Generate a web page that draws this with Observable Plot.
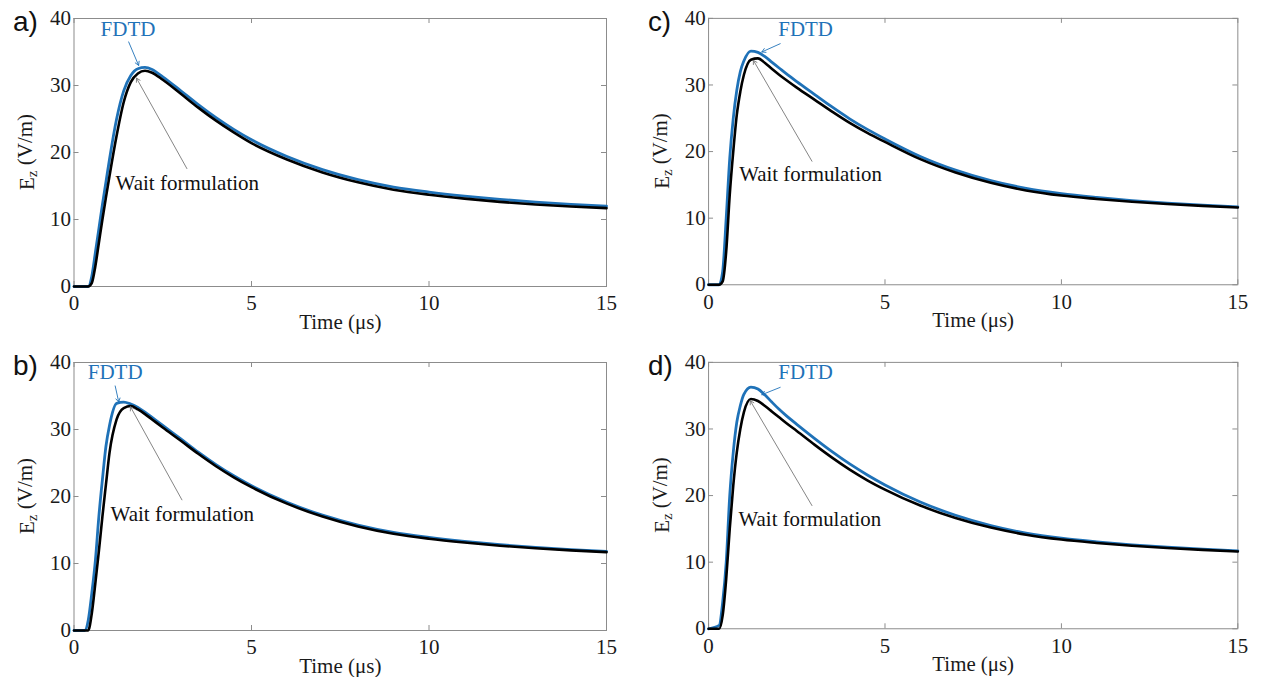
<!DOCTYPE html>
<html>
<head>
<meta charset="utf-8">
<script src="https://cdn.jsdelivr.net/npm/d3@7"></script>
<script src="https://cdn.jsdelivr.net/npm/@observablehq/plot@0.6"></script>
<style>
  html, body { margin: 0; padding: 0; background: #fff; }
  #wrap { position: relative; width: 1261px; height: 677px; overflow: hidden; background: #fff; }
  .cell { position: absolute; }
  .cell svg text { font-family: "Liberation Serif", "Times New Roman", serif; }
  .cell svg text.plabel { font-family: "Liberation Sans", Arial, sans-serif; }
</style>
</head>
<body>
<div id="wrap"></div>
<script>
// ---- data ----
const time = [0,0.3,0.4,0.5,0.6,0.7,0.8,0.9,1.0,1.2,1.4,1.6,1.8,2.0,2.2,2.5,3,3.5,4,4.5,5,6,7,8,9,10,11,12,13,14,15];

const fdtdA = [0,0,0,1.5,5,8.6,12.2,15.6,19,25,29.2,31.5,32.5,32.7,32.4,31.3,29.25,27.15,25.2,23.45,21.9,19.4,17.45,15.95,14.85,14.1,13.5,13.0,12.6,12.27,12.0];
const waitA = [0,0,0,0.5,3,6.5,10,13.3,16.5,22.5,27.5,30.5,31.8,32.2,31.9,30.85,28.8,26.7,24.75,23.0,21.4,18.95,17.02,15.55,14.45,13.7,13.12,12.63,12.24,11.94,11.7];

const fdtdB = [0,0,1.5,5.5,10.3,17,22.5,27.5,30.6,33.9,34.1,33.8,33.3,32.6,31.8,30.6,28.64,26.63,24.77,23.09,21.6,19.13,17.21,15.73,14.64,13.9,13.3,12.8,12.4,12.07,11.8];
const waitB = [0,0,0,2.5,7,11.8,17,21.8,26.5,31.5,33.2,33.5,33.0,32.3,31.5,30.3,28.36,26.37,24.52,22.87,21.4,18.93,17.01,15.53,14.44,13.7,13.13,12.65,12.27,11.96,11.7];

const fdtdC = [0,0,2,10,19,25,29.2,32,33.6,35.1,34.9,34.25,33.4,32.55,31.7,30.5,28.6,26.7,24.92,23.33,21.9,19.27,17.22,15.64,14.48,13.7,13.13,12.65,12.27,11.96,11.7];
const waitC = [0,0,0.5,5,13.5,20,25.5,29,31.5,33.8,34.0,33.3,32.4,31.55,30.75,29.6,27.8,26.0,24.3,22.8,21.45,18.87,16.86,15.31,14.17,13.4,12.89,12.46,12.12,11.84,11.6];

const fdtdD = [0,0.5,4,10,20,26.5,31,33.5,35.2,36.3,36.0,35.1,34.0,32.95,32.0,30.7,28.6,26.6,24.75,23.1,21.6,19.04,17.04,15.5,14.37,13.6,13.06,12.61,12.25,11.95,11.7];
const waitD = [0,0,2,7.5,15,21.5,26.5,30,32.5,34.5,34.2,33.45,32.6,31.75,30.9,29.7,27.65,25.7,23.9,22.3,20.9,18.5,16.63,15.19,14.13,13.4,12.89,12.46,12.12,11.84,11.6];

const panelLabels = ["a)", "b)", "c)", "d)"];
const xTicks = [0, 5, 10, 15];
const yTicks = [0, 10, 20, 30, 40];
const seriesNames = ["FDTD", "Wait formulation"];

// annotation anchors (data units), panels a,b,c,d
const fdtdTextT = [1.52, 1.16, 2.75, 2.75];
const fdtdTextE = [38.4, 38.5, 38.3, 38.5];
const fdtdArrowT1 = [1.54, 1.16, 2.03, 2.03];
const fdtdArrowE1 = [36.5, 36.5, 36.2, 36.25];
const fdtdArrowT2 = [1.82, 1.26, 1.51, 1.51];
const fdtdArrowE2 = [33.0, 34.1, 34.96, 35.15];
const waitTextT = [1.17, 1.03, 0.87, 0.85];
const waitTextE = [15.4, 17.3, 16.6, 16.5];
const waitArrowT1 = [3.18, 3.04, 2.93, 2.93];
const waitArrowE1 = [17.6, 19.5, 18.55, 18.5];
const waitArrowT2 = [1.76, 1.59, 1.27, 1.18];
const waitArrowE2 = [31.1, 33.4, 33.7, 34.25];

// ---- layout ----
const BLUE = "#1f72b8";
const FRAME = "#8c8c8c";
const W = 630, H = 340, ML = 73.5, MR = 24, MT = 18, MB = 54;
const PH = H - MT - MB, PW = W - ML - MR;
const cells = [
  {left: 0, top: 0}, {left: 0, top: 343.7},
  {left: 634.8, top: 0}, {left: 634.8, top: 343.7}
];
const fdtdAll = [fdtdA, fdtdB, fdtdC, fdtdD];
const waitAll = [waitA, waitB, waitC, waitD];
const serif = "Liberation Serif";
const sans = "Liberation Sans";

function makePanel(i) {
  const rows = time.map((t, k) => ({t, fdtd: fdtdAll[i][k], wait: waitAll[i][k]}));
  const ann = [{
    ft: fdtdTextT[i], fe: fdtdTextE[i],
    fx1: fdtdArrowT1[i], fy1: fdtdArrowE1[i], fx2: fdtdArrowT2[i], fy2: fdtdArrowE2[i],
    wt: waitTextT[i], we: waitTextE[i],
    wx1: waitArrowT1[i], wy1: waitArrowE1[i], wx2: waitArrowT2[i], wy2: waitArrowE2[i]
  }];
  const svg = Plot.plot({
    width: W, height: H, marginLeft: ML, marginRight: MR, marginTop: MT, marginBottom: MB,
    x: {domain: [0, 15]},
    y: {domain: [0, 40]},
    style: {fontFamily: serif, fontSize: "21px", color: "#1a1a1a", background: "transparent", overflow: "visible"},
    marks: [
      Plot.frame({stroke: FRAME, strokeWidth: 1}),
      Plot.tickX(xTicks, {x: d => d, stroke: FRAME, insetTop: PH - 5}),
      Plot.tickX(xTicks, {x: d => d, stroke: FRAME, insetBottom: PH - 5}),
      Plot.tickY(yTicks, {y: d => d, stroke: FRAME, insetRight: PW - 5}),
      Plot.tickY(yTicks, {y: d => d, stroke: FRAME, insetLeft: PW - 5}),
      Plot.axisX(xTicks, {tickSize: 0, tickPadding: 9, label: null, tickFormat: d => String(d), fontFamily: serif, fontSize: 21}),
      Plot.axisY(yTicks, {tickSize: 0, tickPadding: 3, label: null, tickFormat: d => String(d), fontFamily: serif, fontSize: 21}),
      Plot.line(rows, {x: "t", y: "fdtd", stroke: BLUE, strokeWidth: 2.8, curve: "monotone-x"}),
      Plot.line(rows, {x: "t", y: "wait", stroke: "#000", strokeWidth: 2.6, curve: "monotone-x"}),
      Plot.arrow(ann, {x1: "fx1", y1: "fy1", x2: "fx2", y2: "fy2", stroke: BLUE, strokeWidth: 0.9, headLength: 7}),
      Plot.arrow(ann, {x1: "wx1", y1: "wy1", x2: "wx2", y2: "wy2", stroke: "#777", strokeWidth: 0.9, headLength: 7}),
      Plot.text(ann, {x: "ft", y: "fe", text: () => seriesNames[0], fill: BLUE, textAnchor: "middle", lineAnchor: "middle", fontSize: 21, fontFamily: serif}),
      Plot.text(ann, {x: "wt", y: "we", text: () => seriesNames[1], fill: "#111", textAnchor: "start", lineAnchor: "middle", fontSize: 21, fontFamily: serif}),
      Plot.text(["Time (μs)"], {frameAnchor: "bottom", dy: 36, lineAnchor: "middle", fontSize: 21, fontFamily: serif, fill: "#1a1a1a"}),
      Plot.text([panelLabels[i]], {frameAnchor: "top-left", dx: -61, dy: 4, textAnchor: "start", lineAnchor: "middle",
        fontFamily: sans, fontSize: 28, fill: "#111", className: "plabel"})
    ]
  });
  d3.select(svg).selectAll("text").filter(function() { return this.textContent.endsWith(")") && this.textContent.length === 2; })
    .classed("plabel", true);
  // y-axis label with subscript
  const lab = d3.select(svg).append("text")
    .attr("transform", `translate(27, ${MT + PH / 2}) rotate(-90)`)
    .attr("text-anchor", "middle")
    .attr("dominant-baseline", "central")
    .attr("fill", "#1a1a1a")
    .style("font-family", serif)
    .style("font-size", "21px");
  lab.append("tspan").text("E");
  lab.append("tspan").attr("dy", "0.32em").style("font-size", "15px").text("z");
  lab.append("tspan").attr("dy", "-0.32em").text(" (V/m)");
  return svg;
}

const wrap = document.getElementById("wrap");
cells.forEach((c, i) => {
  const div = document.createElement("div");
  div.className = "cell";
  div.style.left = c.left + "px";
  div.style.top = c.top + "px";
  div.appendChild(makePanel(i));
  wrap.appendChild(div);
});
</script>
</body>
</html>
